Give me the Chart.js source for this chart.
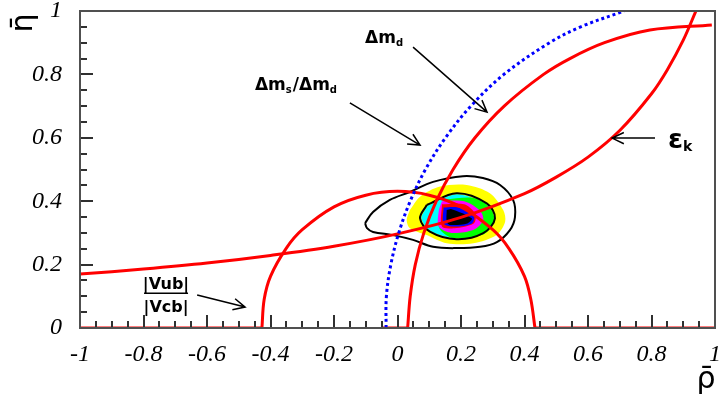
<!DOCTYPE html>
<html>
<head>
<meta charset="utf-8">
<script src="https://cdn.jsdelivr.net/npm/chart.js@4/dist/chart.umd.min.js"></script>
<style>html,body{margin:0;padding:0;background:#fff}</style>
</head>
<body>
<canvas id="c" width="719" height="403"></canvas>
<script>
// epsilon_K hyperbola
const epsRho = [-1, -0.8, -0.6, -0.4, -0.2, 0, 0.2, 0.4, 0.5, 0.6, 0.7, 0.8, 0.85, 0.9, 0.94];
const epsEta = [0.170, 0.186, 0.205, 0.229, 0.258, 0.297, 0.349, 0.424, 0.476, 0.539, 0.623, 0.739, 0.815, 0.908, 1.0];
// delta m_d circle
const dmdRho = [0.032, 0.040, 0.056, 0.083, 0.122, 0.175, 0.244, 0.336, 0.460, 0.543, 0.652, 0.795, 0.99];
const dmdEta = [0, 0.1, 0.2, 0.3, 0.4, 0.5, 0.6, 0.7, 0.8, 0.85, 0.9, 0.94, 0.956];
// |Vub|/|Vcb| circle
const vubRho = [-0.427, -0.42, -0.4, -0.35, -0.3, -0.2, -0.1, 0, 0.1, 0.2, 0.3, 0.35, 0.4, 0.42, 0.433];
const vubEta = [0, 0.09, 0.163, 0.252, 0.31, 0.382, 0.419, 0.431, 0.419, 0.382, 0.31, 0.252, 0.163, 0.09, 0];
// delta m_s / delta m_d limit (dotted)
const dmsRho = [-0.036, -0.035, -0.021, 0.004, 0.040, 0.088, 0.151, 0.231, 0.335, 0.479, 0.577, 0.714];
const dmsEta = [0, 0.1, 0.2, 0.3, 0.4, 0.5, 0.6, 0.7, 0.8, 0.9, 0.95, 1.0];
// red contour pieces along eta = 0
const baseRho = [-1, -0.427, null, -0.05, 0.032, null, 0.433, 1];

// confidence contours
const outerRho = [-0.102, -0.077, -0.024, 0.039, 0.112, 0.206, 0.269, 0.323, 0.364, 0.370, 0.354, 0.313, 0.260, 0.187, 0.112, 0.049, -0.014, -0.077, -0.096, -0.102];
const outerEta = [0.331, 0.366, 0.404, 0.429, 0.461, 0.479, 0.473, 0.451, 0.404, 0.350, 0.309, 0.271, 0.256, 0.252, 0.256, 0.278, 0.293, 0.303, 0.315, 0.331];
const innerRho = [0.092, 0.186, 0.281, 0.307, 0.270, 0.186, 0.102, 0.071, 0.092];
const innerEta = [0.388, 0.425, 0.393, 0.346, 0.299, 0.280, 0.304, 0.346, 0.388];

// coloured probability levels
const yelRho = [0.039, 0.071, 0.134, 0.218, 0.291, 0.333, 0.339, 0.312, 0.239, 0.155, 0.092, 0.039, 0.029, 0.039];
const yelEta = [0.372, 0.414, 0.446, 0.451, 0.425, 0.372, 0.335, 0.293, 0.267, 0.267, 0.293, 0.315, 0.341, 0.372];
const cyaRho = [0.095, 0.186, 0.278, 0.303, 0.268, 0.186, 0.104, 0.075, 0.095];
const cyaEta = [0.386, 0.422, 0.391, 0.346, 0.301, 0.283, 0.306, 0.346, 0.386];
const greRho = [0.15, 0.24, 0.29, 0.305, 0.27, 0.17, 0.13, 0.15];
const greEta = [0.405, 0.41, 0.38, 0.34, 0.295, 0.285, 0.32, 0.405];
const magRho = [0.14, 0.21, 0.26, 0.27, 0.24, 0.17, 0.13, 0.13, 0.14];
const magEta = [0.40, 0.40, 0.37, 0.34, 0.31, 0.30, 0.32, 0.37, 0.40];
const redRho = [0.14, 0.21, 0.245, 0.24, 0.18, 0.14, 0.14];
const redEta = [0.39, 0.39, 0.36, 0.33, 0.315, 0.32, 0.39];
const bluRho = [0.145, 0.19, 0.24, 0.235, 0.18, 0.145, 0.145];
const bluEta = [0.38, 0.38, 0.355, 0.33, 0.32, 0.33, 0.38];
const blkRho = [0.155, 0.17, 0.234, 0.22, 0.165, 0.155, 0.155];
const blkEta = [0.372, 0.375, 0.346, 0.33, 0.325, 0.335, 0.372];

// tick spacing (minor every 0.05, labelled every 0.2)
const minorStep = 0.05;

function pts(xs, ys) {
  return xs.map((x, i) => ({ x: x, y: ys[i] }));
}
function base(xs) {
  return xs.map(x => ({ x: x === null ? 0 : x, y: x === null ? null : 0 }));
}

function curve(data, color, width, order, dash) {
  return {
    data: data, showLine: true, fill: false, borderColor: color, borderWidth: width,
    pointRadius: 0, tension: 0.35, order: order, borderDash: dash || [], spanGaps: false
  };
}
function blob(data, color, order) {
  return {
    data: data, showLine: true, fill: 'shape', backgroundColor: color, borderColor: color,
    borderWidth: 0, pointRadius: 0, tension: 0.3, order: order
  };
}

const isMajor = v => Math.abs(v * 5 - Math.round(v * 5)) < 1e-6;

const ticksAndNotes = {
  id: 'ticksAndNotes',
  afterDraw(chart) {
    const ctx = chart.ctx;
    const a = chart.chartArea;
    const sx = chart.scales.x, sy = chart.scales.y;
    ctx.save();
    ctx.setLineDash([]);
    ctx.globalAlpha = 1;
    ctx.globalCompositeOperation = 'source-over';
    // inward ticks
    ctx.fillStyle = '#303030';
    for (let i = 0; i <= 40; i++) {
      const v = -1 + i * minorStep;
      const px = Math.round(sx.getPixelForValue(v));
      const len = isMajor(v) ? 13 : 7;
      ctx.fillRect(px - 1, a.bottom - len, 2, len);
    }
    for (let i = 0; i <= 20; i++) {
      const v = i * minorStep;
      const py = Math.round(sy.getPixelForValue(v));
      const len = isMajor(v) ? 13 : 7;
      ctx.fillRect(a.left, py - 1, len, 2);
    }
    // frame
    ctx.strokeStyle = '#505050';
    ctx.lineWidth = 2;
    ctx.strokeRect(a.left, a.top, a.right - a.left, a.bottom - a.top);

    // axis titles
    ctx.fillStyle = '#000';
    ctx.font = '30px "DejaVu Sans"';
    ctx.textAlign = 'center';
    ctx.textBaseline = 'middle';
    ctx.fillText('\u03C1\u0304', a.right - 9, 380);
    ctx.save();
    ctx.translate(24, a.top + 12);
    ctx.rotate(-Math.PI / 2);
    ctx.fillText('\u03B7\u0304', 0, 0);
    ctx.restore();

    const X = v => sx.getPixelForValue(v);
    const Y = v => sy.getPixelForValue(v);
    const sub = (parts, x0, y0, big, small) => {
      let x = x0;
      ctx.textAlign = 'left';
      ctx.textBaseline = 'alphabetic';
      parts.forEach(p => {
        ctx.font = p[1] ? small : big;
        ctx.fillText(p[0], x, y0 + (p[1] ? 3 : 0));
        x += ctx.measureText(p[0]).width + (p[1] ? 1 : 0);
      });
    };
    const arrow = (x1, y1, x2, y2) => {
      ctx.strokeStyle = '#000';
      ctx.lineWidth = 1.5;
      ctx.beginPath();
      ctx.moveTo(x1, y1);
      ctx.lineTo(x2, y2);
      const ang = Math.atan2(y2 - y1, x2 - x1);
      const L = 13;
      ctx.moveTo(x2 - L * Math.cos(ang - 0.45), y2 - L * Math.sin(ang - 0.45));
      ctx.lineTo(x2, y2);
      ctx.lineTo(x2 - L * Math.cos(ang + 0.45), y2 - L * Math.sin(ang + 0.45));
      ctx.stroke();
    };
    const big = '600 17px "DejaVu Sans"';
    const small = 'bold 10px "DejaVu Sans"';
    ctx.fillStyle = '#000';
    sub([['\u0394m', 0], ['d', 1]], X(-0.102), Y(0.899), big, small);
    arrow(X(0.049), Y(0.886), X(0.282), Y(0.681));
    sub([['\u0394m', 0], ['s', 1], ['/\u0394m', 0], ['d', 1]], X(-0.449), Y(0.751), big, small);
    arrow(X(-0.150), Y(0.710), X(0.071), Y(0.577));
    sub([['\u03B5', 0], ['k', 1]], X(0.852), Y(0.568), '600 27px "DejaVu Sans"', 'bold 14px "DejaVu Sans"');
    arrow(X(0.811), Y(0.599), X(0.676), Y(0.599));
    // |Vub| / |Vcb|
    const cx = X(-0.729);
    ctx.font = '600 16px "DejaVu Sans"';
    ctx.textAlign = 'center';
    ctx.textBaseline = 'alphabetic';
    ctx.fillText('|Vub|', cx, Y(0.123));
    ctx.fillText('|Vcb|', cx, Y(0.050));
    ctx.lineWidth = 1.5;
    ctx.beginPath();
    ctx.moveTo(cx - 22, Y(0.110));
    ctx.lineTo(cx + 22, Y(0.110));
    ctx.stroke();
    arrow(X(-0.631), Y(0.104), X(-0.480), Y(0.066));
    ctx.restore();
  }
};

const fmt = v => {
  if (!isMajor(v)) return '';
  const r = Math.round(v * 10) / 10;
  return r === 0 ? '0' : String(r);
};

new Chart(document.getElementById('c'), {
  type: 'scatter',
  data: {
    datasets: [
      curve(pts(dmsRho, dmsEta), '#0000ff', 3, 1, [3, 3]),
      curve(pts(epsRho, epsEta), '#ff0000', 3, 2),
      curve(pts(dmdRho, dmdEta), '#ff0000', 3, 2),
      curve(pts(vubRho, vubEta), '#ff0000', 3, 2),
      curve(base(baseRho), '#ff0000', 3, 2),
      curve(pts(outerRho, outerEta), '#000000', 2, 3),
      curve(pts(innerRho, innerEta), '#000000', 2, 3),
      blob(pts(blkRho, blkEta), '#000000', 4),
      blob(pts(bluRho, bluEta), '#0000ff', 5),
      blob(pts(redRho, redEta), '#ff0000', 6),
      blob(pts(magRho, magEta), '#ff00ff', 7),
      blob(pts(greRho, greEta), '#00ff00', 8),
      blob(pts(cyaRho, cyaEta), '#00ffff', 9),
      blob(pts(yelRho, yelEta), '#ffff00', 10)
    ]
  },
  options: {
    responsive: false,
    animation: false,
    layout: { padding: { top: 11, right: 4, left: 0, bottom: 0 } },
    plugins: { legend: { display: false }, tooltip: { enabled: false } },
    scales: {
      x: {
        type: 'linear', min: -1, max: 1,
        afterFit: s => { s.height = 75; s.paddingLeft = 0; s.paddingRight = 0; },
        grid: { display: false, drawTicks: false },
        border: { display: false },
        ticks: {
          stepSize: 0.05, autoSkip: false, maxRotation: 0, padding: 12,
          font: { family: '"Liberation Serif"', style: 'italic', size: 24 },
          color: '#000', callback: fmt
        }
      },
      y: {
        type: 'linear', min: 0, max: 1,
        afterFit: s => { s.width = 80; s.paddingTop = 0; s.paddingBottom = 0; },
        grid: { display: false, drawTicks: false },
        border: { display: false },
        ticks: {
          stepSize: 0.05, autoSkip: false, padding: 18,
          font: { family: '"Liberation Serif"', style: 'italic', size: 24 },
          color: '#000', callback: fmt
        }
      }
    }
  },
  plugins: [ticksAndNotes]
});
</script>
</body>
</html>
